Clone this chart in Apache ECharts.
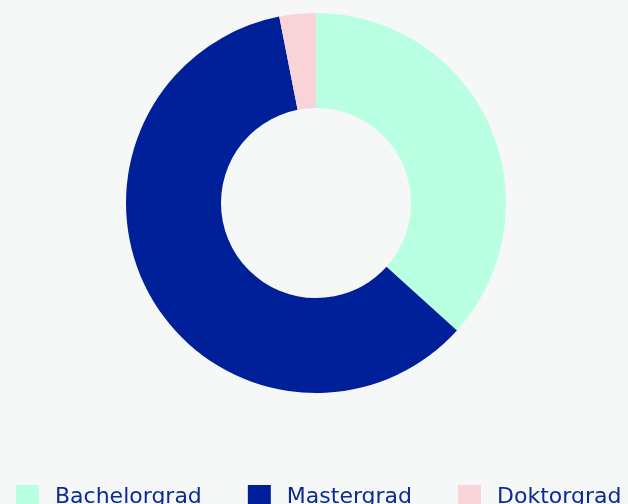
<!DOCTYPE html>
<html>
<head>
<meta charset="utf-8">
<script src="https://cdn.jsdelivr.net/npm/echarts@6/dist/echarts.min.js"></script>
<style>
  html, body { margin: 0; padding: 0; background: #f6f8f8; }
  #chart { width: 628px; height: 504px; }
</style>
</head>
<body>
<div id="chart"></div>
<script>
var categories = ['Bachelorgrad', 'Mastergrad', 'Doktorgrad'];
var values = [36.7, 60.2, 3.1];
var colors = ['#b9ffe2', '#00209a', '#f8d4d9'];

var chart = echarts.init(document.getElementById('chart'));

var option = {
  backgroundColor: '#f6f8f8',
  color: colors,
  legend: {
    data: categories,
    top: 480,
    left: 11,
    width: 640,
    icon: 'rect',
    itemWidth: 23,
    itemHeight: 25,
    itemGap: 46,
    textStyle: {
      fontFamily: 'DejaVu Sans',
      fontSize: 22,
      color: '#0b2a98',
      padding: [0, 0, 4, 11]
    }
  },
  series: [{
    type: 'pie',
    center: [316, 203],
    radius: [95, 190],
    startAngle: 90,
    clockwise: true,
    label: { show: false },
    labelLine: { show: false },
    emphasis: { scale: false },
    itemStyle: { borderWidth: 0 },
    data: categories.map(function (name, i) {
      return { name: name, value: values[i] };
    })
  }]
};

chart.setOption(option);
</script>
</body>
</html>
